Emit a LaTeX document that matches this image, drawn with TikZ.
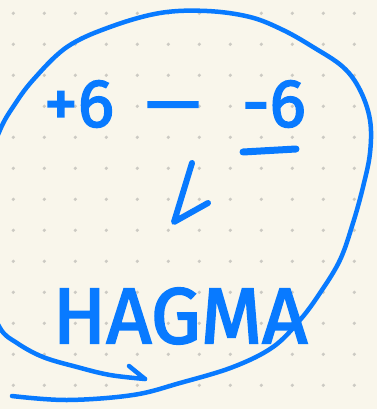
\documentclass[tikz,border=0pt]{standalone}
\usepackage{fontspec}
\setmainfont{Fira Sans}
\newfontfamily\handfont{Fira Sans}[FakeBold=2.5]
\definecolor{paper}{RGB}{249,246,235}
\definecolor{dotc}{RGB}{204,202,195}
\definecolor{ink}{RGB}{8,122,255}
\tikzset{
  stroke/.style={draw=ink, line width=4.5pt, line cap=round, line join=round},
  thick stroke/.style={draw=ink, line width=7pt, line cap=round, line join=round},
  hand/.style={text=ink, inner sep=0pt, font=\handfont\fontsize{68}{70}\selectfont},
  handbig/.style={text=ink, inner sep=0pt, font=\handfont\fontsize{79}{80}\selectfont},
}
\begin{document}
\begin{tikzpicture}[x=1pt,y=-1pt]
\useasboundingbox (0,0) rectangle (377,409);
\fill[paper] (0,0) rectangle (377,409);
\foreach \i in {0,...,11}{\foreach \j in {0,...,12}{
  \fill[dotc] ({13.3+31*\i},{13.3+31*\j}) circle (1.8);}}
\begin{scope}
\clip (0,0) rectangle (377,409);
% big loop
\draw[stroke] plot[smooth, tension=0.6] coordinates {
 (12,396) (67,400) (133,395) (180,383) (233,367) (273,347) (300,320)
 (320,293) (340,260) (353,223) (363,187) (370,153) (370,120) (360,90)
 (343,67) (313,47) (283,30) (250,17) (207,11) (160,13) (110,27)
 (67,47) (33,80) (13,107) (0,130) (-14,170) (-20,230) (-14,290)
 (0,328) (17,343) (43,357) (77,367) (110,375) (145,379)};
\draw[stroke] (145,379) -- (129,366);
\end{scope}
% top line
\node[hand] (plus) at (79,104) {+6};
\node[hand] (dash) at (173,114) {—};
\node[hand] (minus) at (274,104) {-6};
\draw[thick stroke] (243,152) -- (296,149);
% arrow
\coordinate (a1) at (192,163);
\coordinate (a2) at (174,222);
\coordinate (a3) at (208,203);
% bottom word
\node[handbig] (word) at (180,316) {HAGMA};
\draw[stroke, line width=6pt] (a1) -- (a2) -- (a3);
\end{tikzpicture}
\end{document}
